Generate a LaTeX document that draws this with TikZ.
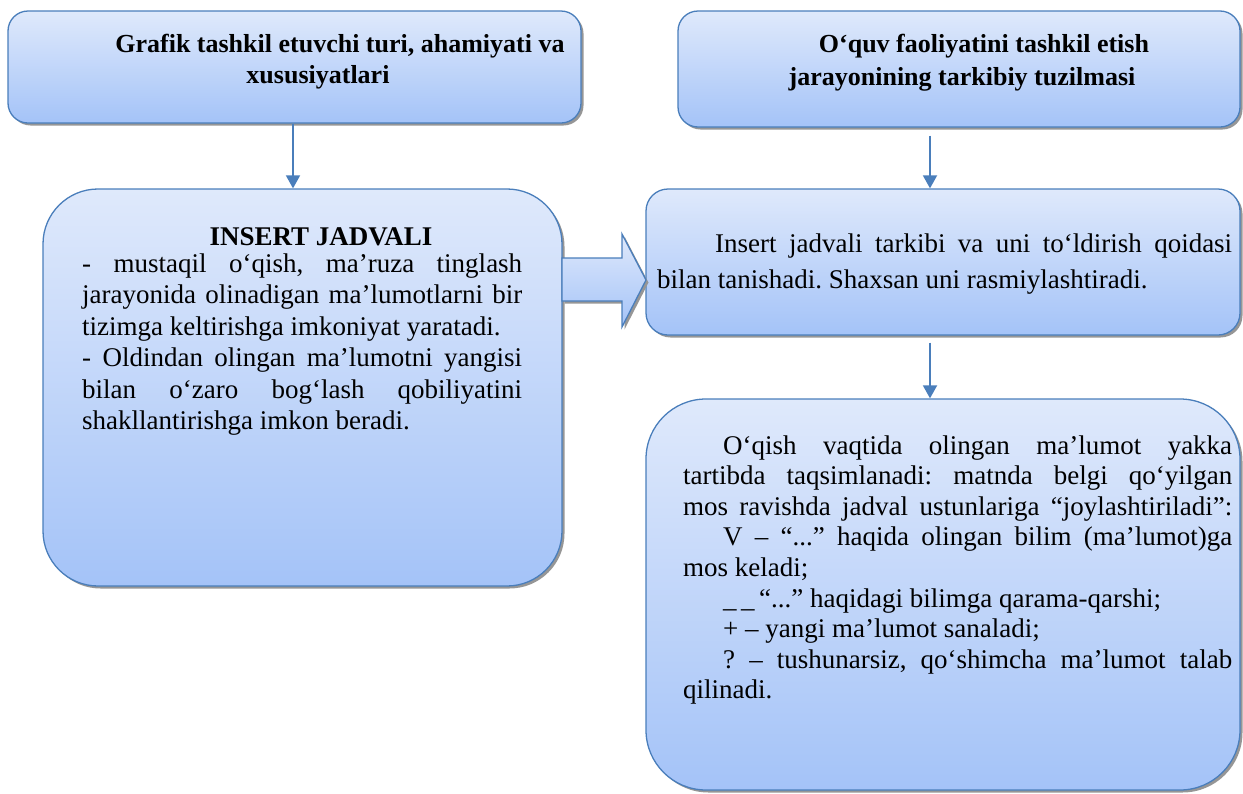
\documentclass[tikz,border=0pt]{standalone}
\usepackage{fontspec}
\setmainfont{Liberation Serif}
\usetikzlibrary{shadows,arrows.meta}
\definecolor{boxtop}{RGB}{223,233,251}
\definecolor{boxbot}{RGB}{164,195,248}
\definecolor{boxline}{RGB}{74,126,187}
\definecolor{shadegray}{RGB}{150,150,150}
\newcommand{\jline}[2]{\makebox[#1][s]{#2}}
\frenchspacing
\begin{document}
\begin{tikzpicture}[x=1pt,y=-1pt,
  panel/.style={rectangle, draw=boxline, line width=1.3pt, top color=boxtop, bottom color=boxbot, inner sep=0pt,
    drop shadow={shadow xshift=2.5pt,shadow yshift=-2.5pt,fill=shadegray,opacity=1}},
  blockarrow/.style={draw=boxline, line width=1.3pt, top color=boxtop, bottom color=boxbot,
    drop shadow={shadow xshift=2.5pt,shadow yshift=-2.5pt,fill=shadegray,opacity=1}},
  title/.style={align=center, inner sep=0pt, anchor=base},
  body/.style={align=left, inner sep=0pt, anchor=base west},
  conn/.style={draw=boxline, line width=1.8pt, -{Triangle[width=14pt,length=13pt]}}
]
\useasboundingbox (0,0) rectangle (1243,793);

% boxes
\node[panel, minimum width=573pt, minimum height=112pt, rounded corners=20pt] (A) at (294.5,67) {};
\node[panel, minimum width=562pt, minimum height=116pt, rounded corners=20pt] (B) at (959,69) {};
\node[panel, minimum width=519pt, minimum height=397pt, rounded corners=55pt] (C) at (302.5,387.5) {};
\node[panel, minimum width=594pt, minimum height=146pt, rounded corners=22pt] (D) at (943,262) {};
\node[panel, minimum width=594pt, minimum height=391pt, rounded corners=60pt] (E) at (943,594.5) {};

% block arrow from C to D
\path[blockarrow] (562,258) -- (622,258) -- (622,234) -- (646,280) -- (622,327) -- (622,301) -- (562,301) -- cycle;

% connectors
\draw[conn] (A.south -| 293,0) -- (C.north -| 293,0);
\draw[conn, shorten <=8pt] (B.south -| 930,0) -- (D.north -| 930,0);
\draw[conn, shorten <=7pt] (D.south -| 930,0) -- (E.north -| 930,0);

% texts (anchor base = baseline of the last line)
\node[title, font=\bfseries\fontsize{26}{31}\selectfont] (tA) at (318,83)
  {\hspace*{44pt}Grafik tashkil etuvchi turi, ahamiyati va\\xususiyatlari};
\node[title, font=\bfseries\fontsize{26}{33}\selectfont] (tB) at (962,85)
  {\hspace*{44pt}O‘quv faoliyatini tashkil etish\\jarayonining tarkibiy tuzilmasi};
\node[title, font=\bfseries\fontsize{27}{32}\selectfont] (tC) at (321,245) {INSERT JADVALI};

\node[body, font=\fontsize{27}{31.5}\selectfont] (bC) at (82,429.5) {%
\jline{440pt}{- mustaqil o‘qish, ma’ruza tinglash}\\
\jline{440pt}{jarayonida olinadigan ma’lumotlarni bir}\\
tizimga keltirishga imkoniyat yaratadi.\\
\jline{440pt}{- Oldindan olingan ma’lumotni yangisi}\\
\jline{440pt}{bilan o‘zaro bog‘lash qobiliyatini}\\
shakllantirishga imkon beradi.};

\node[body, font=\fontsize{27}{36}\selectfont] (bD) at (657,288) {%
\jline{575pt}{\hspace*{58pt}Insert jadvali tarkibi va uni to‘ldirish qoidasi}\\
bilan tanishadi. Shaxsan uni rasmiylashtiradi.};

\node[body, font=\fontsize{27}{30.6}\selectfont] (bE) at (683,698.8) {%
\jline{549pt}{\hspace*{40pt}O‘qish vaqtida olingan ma’lumot yakka}\\
\jline{549pt}{tartibda taqsimlanadi: matnda belgi qo‘yilgan}\\
\jline{549pt}{mos ravishda jadval ustunlariga “joylashtiriladi”:}\\
\jline{549pt}{\hspace*{40pt}V – “...” haqida olingan bilim (ma’lumot)ga}\\
mos keladi;\\
\hspace*{40pt}\_\,\_\,“...” haqidagi bilimga qarama-qarshi;\\
\hspace*{40pt}+ – yangi ma’lumot sanaladi;\\
\jline{549pt}{\hspace*{40pt}? – tushunarsiz, qo‘shimcha ma’lumot talab}\\
qilinadi.};
\end{tikzpicture}
\end{document}
